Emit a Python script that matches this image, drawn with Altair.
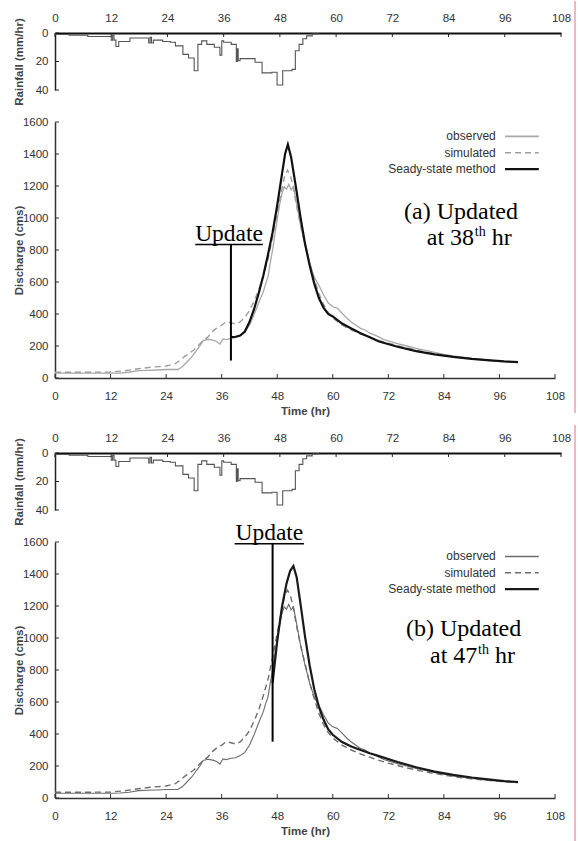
import altair as alt
import pandas as pd

# ---------------- values ----------------
hour_ticks = [0, 12, 24, 36, 48, 60, 72, 84, 96, 108]
discharge_ticks = [0, 200, 400, 600, 800, 1000, 1200, 1400, 1600]
rain_ticks = [0, 20, 40]

# hyetograph (step-after), hours and mm/hr
rain_t = [0, 3, 7, 12, 12.3, 12.6, 13, 13.6, 16, 20,
          20.3, 20.6, 21, 23, 24.6, 25.7, 27.3, 28.5, 29.7, 30.5,
          31.3, 32.4, 34, 35.2, 35.6, 36, 37.6, 38.7, 38.9, 39.1,
          39.5, 42.7, 44.2, 46.3, 47.4, 48.6, 50.6, 51.3, 52.1, 52.9,
          53.7, 54.9, 56.2]
rain_v = [1, 1.5, 2.5, 5, 1.5, 5, 9.5, 6, 3.5, 7,
          3, 7, 5, 6, 6.5, 9, 15, 17.5, 26.5, 8,
          5.5, 8, 10, 15.5, 5.5, 6.5, 8, 20, 11, 19.5,
          18, 20.5, 28, 27.5, 36.5, 26.5, 25.5, 12.5, 8, 4,
          2, 0.7, 0]

# observed discharge (cms)
obs_t = [0, 6, 12, 14, 16, 18, 20, 22, 24, 26.5,
         27.5, 28.5, 29.5, 30.5, 31.3, 32, 33, 33.5, 34.3, 34.9,
         35.6, 36.3, 37, 38, 39, 40, 41, 42, 43, 44,
         45, 45.5, 46, 46.5, 47, 47.5, 48, 48.5, 49, 49.5,
         50, 50.5, 51, 51.5, 52, 52.5, 53, 54, 55, 56,
         57, 58, 59, 60, 61, 62, 63, 64, 65, 66,
         67, 68, 69, 70, 71, 72, 74, 76, 78, 80,
         82, 84, 86, 88, 90, 92, 94, 96, 98, 100]
obs_q = [30, 30, 30, 31, 36, 46, 48, 50, 53, 53,
         70, 100, 130, 170, 200, 234, 242, 240, 235, 228,
         212, 244, 240, 248, 252, 265, 285, 330, 395, 470,
         540, 590, 630, 720, 800, 900, 990, 1080, 1150, 1195,
         1180, 1210, 1175, 1195, 1120, 1040, 960, 830, 720, 630,
         580, 520, 470, 445, 435, 405, 375, 350, 330, 310,
         300, 280, 270, 255, 240, 232, 215, 200, 185, 172,
         160, 148, 138, 130, 122, 116, 110, 106, 101, 95]

# simulated discharge (cms)
sim_t = [0, 6, 12, 15, 18, 21, 24, 26, 27, 28,
         29, 30, 31, 32, 33, 34, 35, 36, 37, 38,
         39, 40, 41, 42, 43, 44, 45, 46, 47, 48,
         49, 49.6, 50.2, 50.8, 51.5, 52, 53, 54, 55, 56,
         57, 58, 59, 60, 62, 64, 66, 68, 70, 72,
         75, 78, 81, 84, 87, 90, 93, 96, 100]
sim_q = [36, 36, 37, 45, 58, 68, 75, 90, 110, 135,
         155, 175, 205, 235, 255, 290, 315, 330, 352, 345,
         338, 350, 380, 420, 480, 550, 640, 740, 880, 1030,
         1180, 1260, 1300, 1270, 1190, 1100, 960, 840, 720, 620,
         530, 460, 410, 375, 330, 300, 275, 255, 235, 218,
         195, 175, 158, 143, 130, 120, 112, 104, 96]

# steady-state method, updated at 38th hr (panel a)
ss_a_t = [38, 39, 40, 41, 42, 43, 44, 45, 46, 47,
          48, 49, 49.7, 50.3, 51, 52, 53, 54, 55, 56,
          57, 58, 59, 60, 62, 64, 66, 68, 70, 74,
          78, 82, 86, 90, 94, 97, 100]
ss_a_q = [255, 258, 265, 290, 350, 430, 530, 640, 770, 910,
          1080, 1270, 1400, 1460, 1380, 1200, 1010, 840, 705, 590,
          500, 440, 400, 385, 340, 310, 280, 255, 228, 195,
          168, 148, 132, 119, 110, 104, 100]

# steady-state method, updated at 47th hr (panel b)
ss_b_t = [47, 48, 49, 50, 50.8, 51.5, 52.2, 53, 54, 55,
          56, 57, 58, 59, 60, 62, 64, 66, 68, 70,
          74, 78, 82, 86, 90, 94, 97, 100]
ss_b_q = [720, 980, 1190, 1340, 1420, 1450, 1380, 1220, 1010, 830,
          680, 570, 490, 430, 395, 350, 322, 300, 280, 262,
          225, 192, 165, 145, 128, 115, 106, 100]

series_names = ["observed", "simulated", "Seady-state method"]
update_hours = [38, 47]
panel_label = ["(a) Updated", "(b) Updated"]
panel_hour_text = ["at 38", "at 47"]

# ---------------- layout / style constants ----------------
RAIN_W, RAIN_H = 506, 57
Q_W, Q_H = 500, 256
SANS = "Liberation Sans"
SERIF = "Liberation Serif"

ANN = [
    dict(upd_x=37.6, upd_q=858, ul_x1=30.3, ul_x2=44.9, ul_q=835, low_q=109,
         t1_x=75.4, t1_q=993, t2_x=80.3, t2_q=830),
    dict(upd_x=46.3, upd_q=1612, ul_x1=38.8, ul_x2=53.8, ul_q=1589, low_q=352,
         t1_x=75.8, t1_q=1012, t2_x=81.0, t2_q=846),
]
LEG_TEXT_X, LEG_X1, LEG_X2 = 95.2, 97.2, 104.5
LEG_Q = [1510, 1408, 1306]

STYLES = [
    dict(obs="#a8a8a8", obs_w=1.3, sim="#9e9e9e", ss="#111111"),
    dict(obs="#6c6c6c", obs_w=1.1, sim="#6e6e6e", ss="#1a1a1a"),
]
DASH = [6, 4]

one = pd.DataFrame({"k": [0]})


def rain_panel(extra):
    df = pd.DataFrame({"t": rain_t, "r": rain_v})
    X = alt.X("t:Q", scale=alt.Scale(domain=[0, 108], nice=False, zero=False),
              axis=alt.Axis(orient="top", values=hour_ticks, title=None, tickSize=0,
                            labelPadding=10, domainWidth=2, domainColor="#111",
                            labelFlush=False, labelOverlap=False, format="d"))
    Y = alt.Y("r:Q", scale=alt.Scale(domain=[0, 40], reverse=True, nice=False, zero=False),
              axis=alt.Axis(values=rain_ticks, title="Rainfall (mm/hr)", tickSize=0,
                            labelPadding=7, titleX=-36, titleY=RAIN_H / 2,
                            titleBaseline="middle", titleAlign="center",
                            domainWidth=1.5, domainColor="#222", format="d"))
    line = alt.Chart(df).mark_line(interpolate="step-after", color="#555",
                                   strokeWidth=1.1).encode(x=X, y=Y)
    top_ticks = alt.Chart(pd.DataFrame({"t": hour_ticks})).mark_rule(
        color="#222", strokeWidth=1).encode(x=X, y=alt.value(0), y2=alt.value(4))
    left_ticks = alt.Chart(pd.DataFrame({"r": rain_ticks})).mark_rule(
        color="#222", strokeWidth=1).encode(y=Y, x=alt.value(0), x2=alt.value(4))
    return alt.layer(line, top_ticks, left_ticks, *extra).properties(
        width=RAIN_W, height=RAIN_H)


def discharge_panel(i, ss_t, ss_q):
    st = STYLES[i]
    an = ANN[i]
    X = alt.X("t:Q", scale=alt.Scale(domain=[0, 108], nice=False, zero=False),
              axis=alt.Axis(values=hour_ticks, title="Time (hr)", tickSize=0,
                            labelPadding=12, titlePadding=4, domainWidth=1.5,
                            domainColor="#333", labelFlush=False, labelOverlap=False,
                            format="d"))
    Y = alt.Y("q:Q", scale=alt.Scale(domain=[0, 1600], nice=False, zero=False),
              axis=alt.Axis(values=discharge_ticks, title="Discharge (cms)", tickSize=0,
                            labelPadding=7, titleX=-36, titleY=Q_H / 2,
                            titleBaseline="middle", titleAlign="center",
                            domainWidth=1.5, domainColor="#333", format="d"))
    obs = alt.Chart(pd.DataFrame({"t": obs_t, "q": obs_q})).mark_line(
        color=st["obs"], strokeWidth=st["obs_w"]).encode(x=X, y=Y)
    sim = alt.Chart(pd.DataFrame({"t": sim_t, "q": sim_q})).mark_line(
        color=st["sim"], strokeWidth=1.4, strokeDash=DASH).encode(x=X, y=Y)
    ss = alt.Chart(pd.DataFrame({"t": ss_t, "q": ss_q})).mark_line(
        color=st["ss"], strokeWidth=2.2).encode(x=X, y=Y)

    bt = alt.Chart(pd.DataFrame({"t": hour_ticks})).mark_rule(
        color="#333", strokeWidth=1).encode(x=X, y=alt.value(Q_H), y2=alt.value(Q_H - 4))
    lt = alt.Chart(pd.DataFrame({"q": discharge_ticks})).mark_rule(
        color="#333", strokeWidth=1).encode(y=Y, x=alt.value(0), x2=alt.value(4))

    # update marker
    upd_line = alt.Chart(pd.DataFrame({"t": [update_hours[i]], "q": [an["ul_q"]],
                                       "q2": [an["low_q"]]})).mark_rule(
        color="#000", strokeWidth=2).encode(x=X, y=Y, y2="q2:Q")
    underline = alt.Chart(pd.DataFrame({"t": [an["ul_x1"]], "t2": [an["ul_x2"]],
                                        "q": [an["ul_q"]]})).mark_rule(
        color="#000", strokeWidth=1.5).encode(x=X, x2="t2:Q", y=Y)
    upd_text = alt.Chart(pd.DataFrame({"t": [an["upd_x"]], "q": [an["upd_q"]],
                                       "s": ["Update"]})).mark_text(
        font=SERIF, fontSize=23.5, align="center", baseline="alphabetic",
        color="#000").encode(x=X, y=Y, text="s:N")

    # panel annotation
    t1 = alt.Chart(pd.DataFrame({"t": [an["t1_x"]], "q": [an["t1_q"]],
                                 "s": [panel_label[i]]})).mark_text(
        font=SERIF, fontSize=24, align="left", baseline="alphabetic",
        color="#000").encode(x=X, y=Y, text="s:N")
    t2 = alt.Chart(pd.DataFrame({"t": [an["t2_x"]], "q": [an["t2_q"]],
                                 "s": [panel_hour_text[i]]})).mark_text(
        font=SERIF, fontSize=24, align="left", baseline="alphabetic",
        color="#000").encode(x=X, y=Y, text="s:N")
    t3 = alt.Chart(pd.DataFrame({"t": [an["t2_x"]], "q": [an["t2_q"]],
                                 "s": ["th"]})).mark_text(
        font=SERIF, fontSize=14, align="left", baseline="alphabetic", dx=48, dy=-9,
        color="#000").encode(x=X, y=Y, text="s:N")
    t4 = alt.Chart(pd.DataFrame({"t": [an["t2_x"]], "q": [an["t2_q"]],
                                 "s": ["hr"]})).mark_text(
        font=SERIF, fontSize=24, align="left", baseline="alphabetic", dx=65,
        color="#000").encode(x=X, y=Y, text="s:N")

    # legend
    leg_text = alt.Chart(pd.DataFrame({"t": [LEG_TEXT_X] * 3, "q": LEG_Q,
                                       "s": series_names})).mark_text(
        font=SANS, fontSize=12, align="right", baseline="middle",
        color="#333").encode(x=X, y=Y, text="s:N")
    leg_obs = alt.Chart(pd.DataFrame({"t": [LEG_X1], "t2": [LEG_X2], "q": [LEG_Q[0]]})).mark_rule(
        color=st["obs"], strokeWidth=st["obs_w"] + 0.4).encode(x=X, x2="t2:Q", y=Y)
    leg_sim = alt.Chart(pd.DataFrame({"t": [LEG_X1], "t2": [LEG_X2], "q": [LEG_Q[1]]})).mark_rule(
        color=st["sim"], strokeWidth=1.5, strokeDash=DASH).encode(x=X, x2="t2:Q", y=Y)
    leg_ss = alt.Chart(pd.DataFrame({"t": [LEG_X1], "t2": [LEG_X2], "q": [LEG_Q[2]]})).mark_rule(
        color=st["ss"], strokeWidth=2.2).encode(x=X, x2="t2:Q", y=Y)

    return alt.layer(obs, sim, ss, bt, lt, upd_line, underline, upd_text,
                     t1, t2, t3, t4, leg_text, leg_obs, leg_sim, leg_ss).properties(
        width=Q_W, height=Q_H)


red_top = alt.Chart(one).mark_rule(color="#e57373", strokeWidth=1).encode(
    x=alt.value(520), y=alt.value(-32), y2=alt.value(380))
anchor = alt.Chart(one).mark_rule(strokeOpacity=0, color="#fff").encode(
    x=alt.value(-55), y=alt.value(-32), y2=alt.value(-30))
red_bot = alt.Chart(one).mark_rule(color="#e57373", strokeWidth=1).encode(
    x=alt.value(520), y=alt.value(-28), y2=alt.value(389))

rain_a = rain_panel([red_top, anchor])
rain_b = rain_panel([red_bot])
dis_a = discharge_panel(0, ss_a_t, ss_a_q)
dis_b = discharge_panel(1, ss_b_t, ss_b_q)
spacer = alt.Chart(one).mark_point(opacity=0).encode(
    x=alt.value(0), y=alt.value(0)).properties(width=1, height=11)

chart = alt.vconcat(rain_a, dis_a, spacer, rain_b, dis_b, spacing=32, bounds="flush").properties(
    padding=0, background="white"
).configure_view(strokeWidth=0).configure_axis(
    grid=False, labelFont=SANS, labelFontSize=11.5, labelColor="#333",
    titleFont=SANS, titleFontSize=11.5, titleFontWeight="bold", titleColor="#444"
)

chart.save("out.html", embed_options={"renderer": "svg", "actions": False})
